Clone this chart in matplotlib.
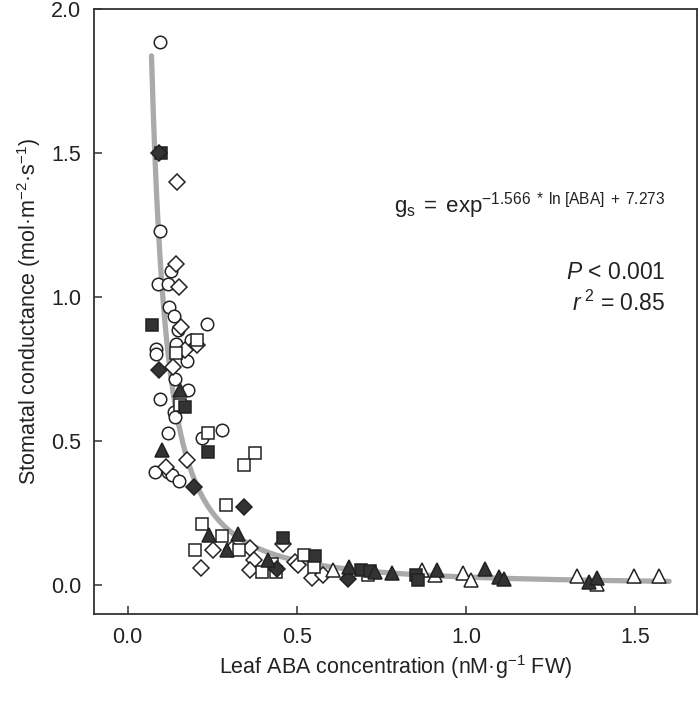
import numpy as np
import matplotlib
matplotlib.use('Agg')
import matplotlib.pyplot as plt

plt.rcParams['font.family'] = ['Liberation Sans', 'DejaVu Sans']
plt.rcParams['mathtext.fontset'] = 'custom'
plt.rcParams['mathtext.rm'] = 'Liberation Sans'
plt.rcParams['mathtext.it'] = 'Liberation Sans:italic'

# data (leaf ABA, stomatal conductance)
open_circle_x = [0.095, 0.095, 0.129, 0.090, 0.119, 0.122, 0.136, 0.235, 0.149, 0.188,
                 0.085, 0.085, 0.142, 0.176, 0.141, 0.178, 0.097, 0.136, 0.141, 0.119,
                 0.280, 0.221, 0.080, 0.118, 0.130, 0.151]
open_circle_y = [1.885, 1.230, 1.090, 1.047, 1.047, 0.966, 0.934, 0.906, 0.885, 0.851,
                 0.822, 0.802, 0.839, 0.779, 0.718, 0.679, 0.648, 0.602, 0.584, 0.529,
                 0.541, 0.512, 0.392, 0.392, 0.382, 0.361]

open_diamond_x = [0.146, 0.142, 0.152, 0.159, 0.205, 0.169, 0.134, 0.174, 0.112, 0.252,
                  0.307, 0.361, 0.218, 0.373, 0.361, 0.458, 0.495, 0.503, 0.546, 0.578]
open_diamond_y = [1.400, 1.115, 1.036, 0.897, 0.833, 0.816, 0.758, 0.436, 0.411, 0.122,
                  0.127, 0.131, 0.061, 0.089, 0.052, 0.145, 0.080, 0.070, 0.027, 0.035]

open_square_x = [0.205, 0.142, 0.154, 0.236, 0.376, 0.343, 0.292, 0.220, 0.280, 0.200,
                 0.329, 0.428, 0.398, 0.438, 0.521, 0.550, 0.711]
open_square_y = [0.851, 0.805, 0.625, 0.529, 0.461, 0.417, 0.278, 0.214, 0.170, 0.124,
                 0.124, 0.075, 0.046, 0.046, 0.104, 0.064, 0.035]

open_triangle_x = [0.606, 0.869, 0.908, 0.990, 1.015, 1.329, 1.386, 1.497, 1.569]
open_triangle_y = [0.054, 0.054, 0.035, 0.043, 0.020, 0.031, 0.005, 0.031, 0.031]

filled_square_x = [0.100, 0.073, 0.169, 0.236, 0.458, 0.555, 0.691, 0.716, 0.852, 0.859]
filled_square_y = [1.500, 0.903, 0.619, 0.463, 0.166, 0.101, 0.052, 0.050, 0.035, 0.017]

filled_diamond_x = [0.092, 0.093, 0.195, 0.344, 0.440, 0.650]
filled_diamond_y = [1.500, 0.749, 0.341, 0.272, 0.058, 0.023]

filled_triangle_x = [0.156, 0.103, 0.241, 0.326, 0.294, 0.415, 0.655, 0.731, 0.780, 0.913,
                     1.056, 1.096, 1.112, 1.362, 1.388]
filled_triangle_y = [0.677, 0.469, 0.174, 0.179, 0.122, 0.087, 0.064, 0.046, 0.043, 0.054,
                     0.058, 0.029, 0.023, 0.011, 0.027]

# fitted model from the equation on the chart (ABA in pM, hence *1000)
slope = -1.566
intercept = 7.273
fit_x = np.linspace(0.0705, 1.60, 300)
fit_y = np.exp(slope * np.log(1000 * fit_x) + intercept)

dark = '#333333'
edge = '#222222'

fig = plt.figure(figsize=(7, 7.1), dpi=100)
ax = fig.add_axes([0.134, 0.135, 0.862, 0.852])

ax.plot(fit_x, fit_y, color='#aaaaaa', lw=3.8, solid_capstyle='round', zorder=1)

mk = dict(linestyle='none', markeredgewidth=1.1, markeredgecolor=edge, zorder=3)
ax.plot(open_circle_x, open_circle_y, 'o', ms=9, markerfacecolor='white', **mk)
ax.plot(open_diamond_x, open_diamond_y, 'D', ms=8.3, markerfacecolor='white', **mk)
ax.plot(open_square_x, open_square_y, 's', ms=8.3, markerfacecolor='white', **mk)
ax.plot(open_triangle_x, open_triangle_y, '^', ms=9.5, markerfacecolor='white', **mk)
ax.plot(filled_square_x, filled_square_y, 's', ms=8.3, markerfacecolor=dark, **mk)
ax.plot(filled_diamond_x, filled_diamond_y, 'D', ms=8.3, markerfacecolor=dark, **mk)
ax.plot(filled_triangle_x, filled_triangle_y, '^', ms=9.5, markerfacecolor=dark, **mk)

ax.set_xlim(-0.1, 1.683)
ax.set_ylim(-0.1, 2.0)
ax.set_xticks([0.0, 0.5, 1.0, 1.5])
ax.set_yticks([0.0, 0.5, 1.0, 1.5, 2.0])
ax.set_xticklabels(['0.0', '0.5', '1.0', '1.5'])
ax.set_yticklabels(['0.0', '0.5', '1.0', '1.5', '2.0'])
ax.tick_params(direction='in', length=6, width=1.1, color='#333333',
               labelsize=15.5, labelcolor='#222222', pad=9)
for sp in ax.spines.values():
    sp.set_color('#333333')
    sp.set_linewidth(1.3)

ax.set_xlabel('Leaf ABA concentration (nM\u00b7g$^{-1}$ FW)', fontsize=15.5,
              color='#222222', labelpad=4)
ax.set_ylabel('Stomatal conductance (mol\u00b7m$^{-2}$\u00b7s$^{-1}$)', fontsize=15.5,
              color='#222222', labelpad=6)

ax.text(0.947, 0.663,
        r'$\mathrm{g_s\;=\;exp^{-1.566\;*\;ln\;[ABA]\;+\;7.273}}$',
        transform=ax.transAxes, ha='right', va='baseline', fontsize=16, color='#222222')
ax.text(0.947, 0.554, r'$\it{P}$ < 0.001', transform=ax.transAxes, ha='right',
        va='baseline', fontsize=16.5, color='#222222')
ax.text(0.947, 0.501, r'$\it{r}$$^{\ 2}$ = 0.85', transform=ax.transAxes, ha='right',
        va='baseline', fontsize=16.5, color='#222222')

fig.savefig('out.png', dpi=100)
